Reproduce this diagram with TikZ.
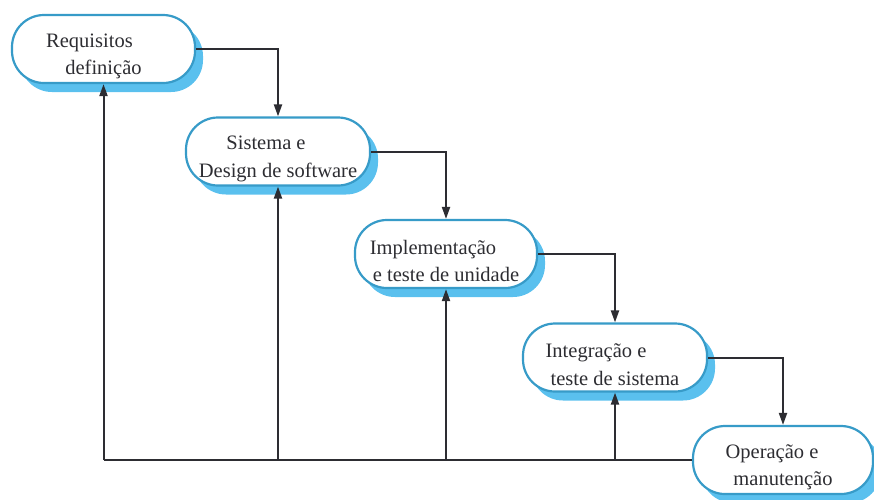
\documentclass[tikz,border=0pt]{standalone}
\usepackage{fontspec}
\setmainfont{Liberation Serif}
\usetikzlibrary{shadows,arrows.meta}
\definecolor{boxline}{RGB}{55,155,200}
\definecolor{boxshadow}{RGB}{90,192,238}
\definecolor{ink}{RGB}{45,45,50}
\tikzset{
  phase/.style={draw=boxline, line width=2.2pt, fill=white, rounded corners=32pt,
    minimum width=#1, minimum height=68pt, align=center, inner sep=0pt,
    font=\fontsize{20.5}{27.5}\selectfont, text=ink,
    drop shadow={shadow xshift=8pt, shadow yshift=-9pt, fill=boxshadow, opacity=1}},
  flow/.style={draw=ink, line width=2pt, -{Triangle[length=12pt,width=8pt]}},
  link/.style={draw=ink, line width=2pt}
}
\newcommand{\topfill}{\rule{0pt}{28pt}}
\begin{document}
\begin{tikzpicture}[x=1pt,y=-1pt]
\useasboundingbox (0,0) rectangle (874,499);
\node[phase=183pt] (b1) at (103.5,49) {\topfill Requisitos\hspace*{28pt}\\definição};
\node[phase=184pt] (b2) at (278,151.5) {\topfill Sistema e\hspace*{24pt}\\Design de software};
\node[phase=182pt] (b3) at (446,254) {\topfill Implementação\hspace*{26pt}\\e teste de unidade};
\node[phase=184pt] (b4) at (615,357.5) {\topfill Integração e\hspace*{38pt}\\teste de sistema};
\node[phase=180pt] (b5) at (783,460) {\topfill Operação e\hspace*{22pt}\\manutenção};
\draw[flow] (b1.east) -| (b2.north);
\draw[flow] (b2.east) -| (b3.north);
\draw[flow] (b3.east) -| (b4.north);
\draw[flow] (b4.east) -| (b5.north);
\coordinate (c1) at (b1.south |- b5.west);
\coordinate (c2) at (b2.south |- b5.west);
\coordinate (c3) at (b3.south |- b5.west);
\coordinate (c4) at (b4.south |- b5.west);
\draw[link] (b5.west) -- (c1);
\draw[flow] (c1) -- (b1.south);
\draw[flow] (c2) -- (b2.south);
\draw[flow] (c3) -- (b3.south);
\draw[flow] (c4) -- (b4.south);
\end{tikzpicture}
\end{document}
